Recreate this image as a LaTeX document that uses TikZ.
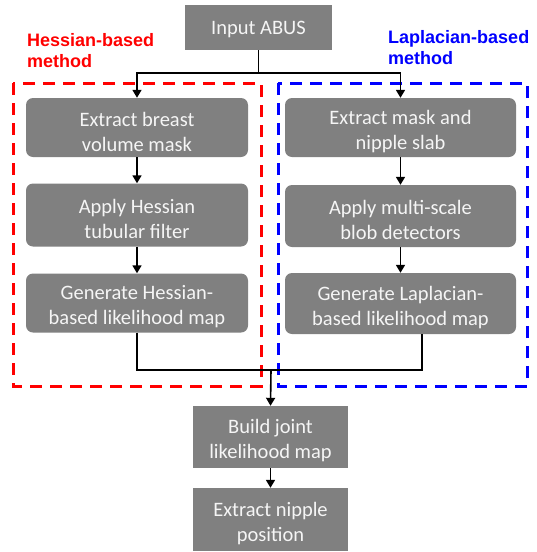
\documentclass[tikz,border=0pt]{standalone}
\usepackage{fontspec}
\setmainfont{Carlito}
\newfontfamily\labfont{Liberation Sans}
\usetikzlibrary{arrows.meta,positioning}
\definecolor{boxgray}{RGB}{128,128,128}
\definecolor{boxtext}{RGB}{245,245,245}
\definecolor{hred}{RGB}{255,0,0}
\definecolor{lblue}{RGB}{0,0,255}
\tikzset{
  stepbox/.style={fill=boxgray, inner sep=0pt},
  roundbox/.style={stepbox, rounded corners=7pt},
  boxlabel/.style={text=boxtext, align=center, inner sep=0pt, yshift=-4pt,
    font=\fontsize{20.5}{25}\selectfont},
  conn/.style={line width=1.6pt, black},
  arr/.style={conn, -{Triangle[length=8pt,width=9pt]}},
  dashbox/.style={line width=3pt, dash pattern=on 12pt off 8pt},
  methodlabel/.style={font=\labfont\bfseries\fontsize{18}{21}\selectfont, align=left, anchor=north west, inner sep=0pt}
}
\begin{document}
\begin{tikzpicture}[x=1pt,y=-1pt]
\useasboundingbox (0,0) rectangle (537,552);
% dashed method frames
\draw[dashbox, hred] (13,83) rectangle (261,386);
\draw[dashbox, lblue] (278,83) rectangle (527,386);
% method labels
\node[methodlabel, text=hred] (hlab) at (27,33) {Hessian-based\\method};
\node[methodlabel, text=lblue] (llab) at (388,30) {Laplacian-based\\method};
% boxes
\node[stepbox, minimum width=147pt, minimum height=45pt,
  label={[boxlabel, yshift=2pt]center:Input ABUS}] (in) at (258.5,27.5) {};
\node[roundbox, minimum width=222pt, minimum height=59pt,
  label={[boxlabel]center:Extract breast\\volume mask}] (l1) at (137,127.5) {};
\node[roundbox, minimum width=222pt, minimum height=63pt,
  label={[boxlabel]center:Apply Hessian\\tubular filter}] (l2) at (137,215) {};
\node[roundbox, minimum width=222pt, minimum height=59pt,
  label={[boxlabel]center:Generate Hessian-\\based likelihood map}] (l3) at (137,303) {};
\node[roundbox, minimum width=231pt, minimum height=59pt,
  label={[boxlabel]center:Extract mask and\\nipple slab}] (r1) at (400.5,127.5) {};
\node[roundbox, minimum width=231pt, minimum height=62pt,
  label={[boxlabel]center:Apply multi-scale\\blob detectors}] (r2) at (400.5,216) {};
\node[roundbox, minimum width=231pt, minimum height=61pt,
  label={[boxlabel]center:Generate Laplacian-\\based likelihood map}] (r3) at (400.5,303.5) {};
\node[stepbox, minimum width=155pt, minimum height=62pt,
  label={[boxlabel]center:Build joint\\likelihood map}] (bj) at (270.5,437) {};
\node[stepbox, minimum width=155pt, minimum height=63pt,
  label={[boxlabel]center:Extract nipple\\position}] (en) at (270.5,519.5) {};
% connectors
\coordinate (split) at (258.5,73);
\coordinate (join) at (271,370);
\coordinate (rdrop) at (422,334);
\draw[conn] (in.south) -- (split);
\draw[arr] (split) -| (l1.north);
\draw[arr] (split) -| (r1.north);
\draw[arr] (l1) -- (l2);
\draw[arr] (l2) -- (l3);
\draw[arr] (r1) -- (r2);
\draw[arr] (r2) -- (r3);
\draw[conn] (l3.south) |- (join);
\draw[conn] (rdrop) |- (join);
\draw[arr] (join) -- (bj.north);
\draw[arr] (bj) -- (en);
\end{tikzpicture}
\end{document}
